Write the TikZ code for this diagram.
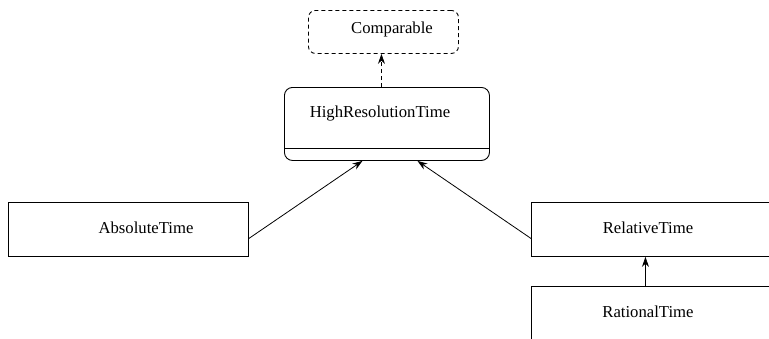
\documentclass[tikz,border=0pt]{standalone}
\usepackage{fontspec}
\setmainfont{Liberation Serif}
\newfontfamily\umlfont{Liberation Serif}
\usetikzlibrary{arrows.meta}
\begin{document}
\begin{tikzpicture}[x=1pt,y=-1pt,
  every node/.style={font=\umlfont\fontsize{16.7}{20}\selectfont, inner sep=0pt},
  box/.style={draw, line width=0.9pt, rectangle, anchor=north west},
  txt/.style={text=black},
  gen/.style={-{Stealth[length=10pt,width=7pt]}, line width=0.8pt},
  dep/.style={-{Stealth[length=10pt,width=7pt]}, line width=0.8pt, dashed, dash pattern=on 4pt off 3pt}]
\useasboundingbox (0,0) rectangle (769,338);
\clip (0,0) rectangle (769,338);
% boxes
\node[box, rounded corners=7pt, dashed, dash pattern=on 4pt off 3pt, minimum width=150pt, minimum height=43pt] (cmp) at (308,10) {};
\node[txt] (cmpt) at (392,29) {Comparable};
\node[box, rounded corners=8pt, minimum width=205pt, minimum height=73pt] (hrt) at (284,87) {};
\node[txt] (hrtt) at (380,114) {HighResolutionTime};
\draw[line width=0.9pt] (hrt.west |- 0,148) coordinate (sepl) -- (hrt.east |- 0,148) coordinate (sepr);
\node[box, minimum width=240pt, minimum height=54pt] (abs) at (8,202) {};
\node[txt] (abst) at (146,228) {AbsoluteTime};
\node[box, minimum width=270pt, minimum height=54pt] (rel) at (531,202) {};
\node[txt] (relt) at (648,228) {RelativeTime};
\node[box, minimum width=270pt, minimum height=80pt] (rat) at (531,286) {};
\node[txt] (ratt) at (648,312) {RationalTime};
% connectors
\draw[dep] ([xshift=-5.5pt]hrt.north) -- ([xshift=-2pt]cmp.south);
\draw[gen] ([yshift=-9pt]abs.east) -- ([xshift=-24.5pt]hrt.south);
\draw[gen] ([yshift=-9pt]rel.west) -- ([xshift=30.5pt]hrt.south);
\draw[gen] ([xshift=-21pt]rat.north) -- ([xshift=-21pt]rel.south);
\end{tikzpicture}
\end{document}
